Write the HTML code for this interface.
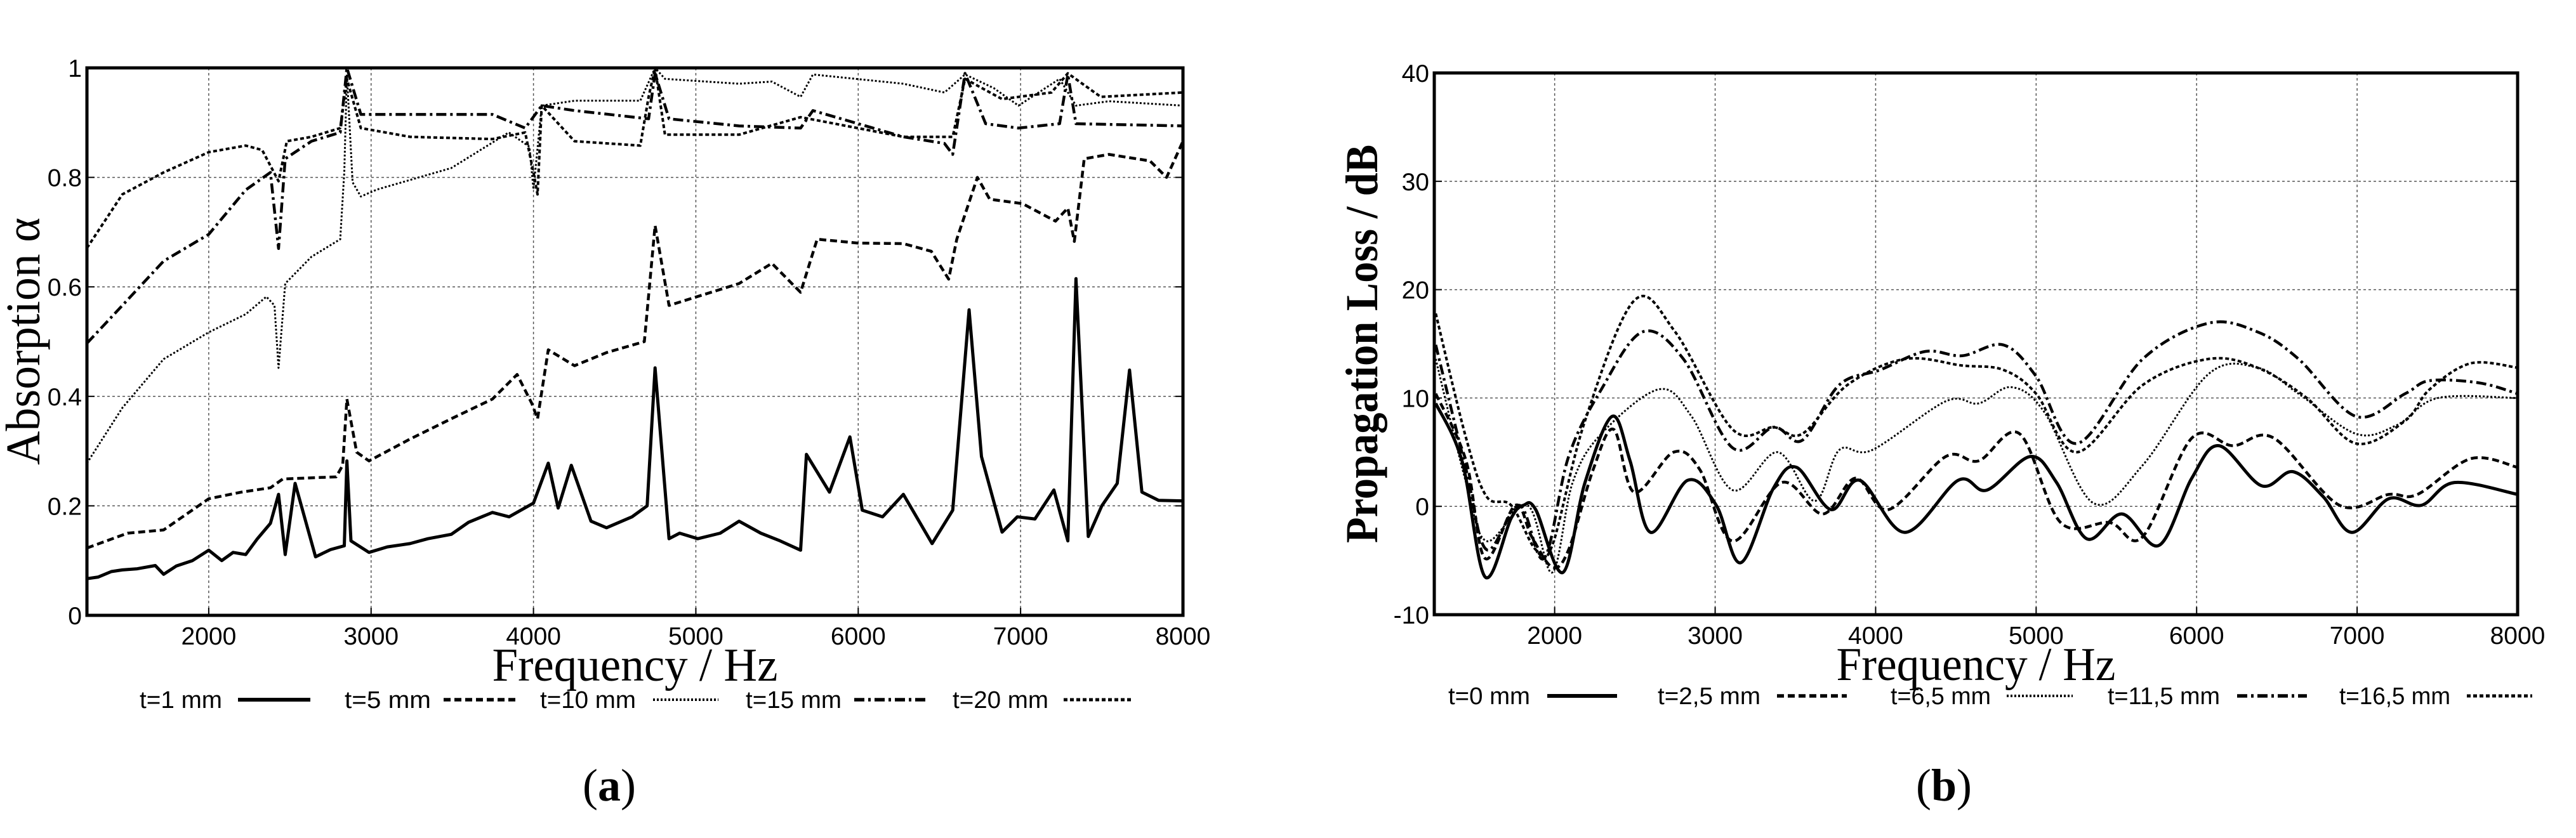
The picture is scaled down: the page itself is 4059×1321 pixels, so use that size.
<!DOCTYPE html>
<html><head><meta charset="utf-8"><style>
html,body{margin:0;padding:0;background:#fff;width:4059px;height:1321px;overflow:hidden}
svg{display:block}
</style></head><body>
<svg id="fig" width="4059" height="1321" viewBox="0 0 4059 1321" xmlns="http://www.w3.org/2000/svg"></svg>
<script>
// ---- Panel (a) data: absorption vs frequency ----
const aF1=[1250,1320,1400,1468,1560,1671,1722,1800,1900,2000,2080,2150,2228,2300,2380,2430,2471,2532,2658,2750,2835,2851,2876,2987,3100,3240,3350,3494,3600,3747,3850,4000,4091,4152,4233,4354,4450,4607,4700,4749,4835,4900,5012,5150,5266,5400,5519,5645,5681,5823,5949,6025,6150,6278,6455,6582,6683,6759,6886,6980,7088,7205,7291,7341,7417,7500,7595,7671,7747,7850,8000];
const aV1=[.067,.07,.08,.083,.085,.091,.075,.09,.1,.119,.1,.115,.111,.14,.168,.221,.111,.241,.107,.12,.127,.282,.136,.115,.125,.131,.14,.148,.17,.188,.18,.205,.278,.196,.274,.172,.16,.18,.2,.452,.14,.15,.14,.15,.172,.15,.136,.119,.294,.225,.326,.192,.18,.221,.131,.192,.558,.29,.152,.18,.176,.229,.136,.615,.144,.2,.241,.448,.225,.21,.209];
const aF5=[1250,1500,1722,2000,2200,2380,2456,2785,2825,2851,2911,2987,3240,3500,3747,3899,3990,4025,4091,4253,4450,4683,4749,4835,5266,5468,5645,5747,6000,6278,6450,6557,6607,6734,6810,7012,7215,7291,7331,7392,7544,7797,7899,8000];
const aV5=[.123,.15,.156,.213,.225,.233,.249,.253,.274,.395,.298,.282,.322,.36,.395,.44,.387,.359,.485,.456,.48,.5,.712,.566,.606,.643,.59,.687,.68,.679,.665,.614,.687,.8,.76,.752,.72,.744,.683,.834,.842,.83,.8,.866];
const aF10=[1250,1468,1722,2000,2228,2355,2405,2430,2471,2633,2810,2835,2851,2886,2937,3038,3494,3848,3975,4000,4051,4253,4658,4749,4810,5266,5468,5645,5721,6278,6531,6658,6835,6987,7240,7341,7544,8000];
const aV10=[.278,.379,.468,.517,.55,.582,.566,.452,.606,.655,.687,.81,.988,.791,.765,.778,.817,.882,.856,.778,.931,.94,.94,1.0,.98,.971,.975,.947,.988,.971,.955,.988,.963,.931,.98,.931,.939,.931];
const aF15=[1250,1468,1722,2000,2228,2380,2430,2471,2633,2810,2851,2937,3240,3747,3949,4051,4253,4709,4749,4835,5266,5645,5721,6278,6531,6582,6658,6785,6987,7240,7291,7341,8000];
const aV15=[.497,.566,.647,.696,.777,.809,.67,.834,.866,.882,1.0,.915,.915,.915,.89,.931,.922,.907,.99,.907,.894,.89,.922,.874,.862,.842,.99,.898,.89,.898,.988,.898,.894];
const aF20=[1250,1468,1722,2000,2228,2329,2430,2481,2633,2810,2851,2937,3240,3747,3949,4000,4025,4051,4253,4658,4709,4749,4810,5266,5645,6278,6582,6658,6886,7190,7291,7494,8000];
const aV20=[.671,.769,.809,.846,.858,.85,.793,.866,.874,.89,.98,.89,.874,.87,.882,.809,.769,.931,.866,.858,.947,1.0,.878,.878,.91,.874,.874,.98,.943,.955,.99,.947,.955];
// ---- Panel (b) data: propagation loss vs frequency ----
const bF0=[1259,1423,1566,1729,1806,1882,2051,2189,2358,2470,2598,2828,3007,3160,3364,3507,3722,3901,4182,4514,4693,4964,5127,5316,5536,5766,5970,6139,6404,6599,6788,6967,7197,7401,7606,8000];
const bV0=[9.5,4.2,-6.5,-1.1,0.1,-0.3,-6.1,2.2,8.3,4.2,-2.4,2.4,0.1,-5.2,1.7,3.6,-0.3,2.4,-2.4,2.4,1.5,4.6,2.2,-3,-0.7,-3.6,2.6,5.6,1.9,3.2,0.9,-2.4,0.7,0.1,2.2,1.1];
const bF2=[1259,1448,1566,1755,1857,1985,2087,2240,2368,2496,2741,2904,3109,3415,3671,3875,4080,4437,4642,4897,5153,5459,5664,5970,6226,6481,6890,7197,7376,7708,8000];
const bV2=[10.4,4.2,-4.8,0.1,-2.8,-5.6,-4,3.4,7.1,1.3,5,3.4,-3.2,2.2,-0.7,2.6,-0.3,4.6,4.2,6.7,-1.5,-1.5,-2.8,6.3,5.6,6.3,0.1,1.1,1.1,4.4,3.6];
const bF6=[1259,1448,1576,1831,1985,2112,2291,2649,2853,3109,3390,3620,3773,3978,4437,4642,4846,5051,5357,5664,6073,6379,6635,6993,7248,7503,8000];
const bV6=[13.6,2.2,-3.2,0.1,-6.1,2.2,6.7,10.8,8.3,1.5,5,0.5,5.2,5.2,9.7,9.5,11,8.7,0.3,3.8,12.2,12.8,10.4,6.7,7.5,10,10];
const bF11=[1259,1448,1576,1780,1934,2087,2291,2547,2802,3109,3364,3543,3773,4029,4310,4540,4795,5000,5255,5664,6073,6379,6635,6993,7299,7452,7759,8000];
const bV11=[14.9,3.4,-4,0.1,-4.8,4.6,10.8,16.1,13.6,5.4,7.3,6.1,11.2,12.6,14.3,13.9,14.9,12,5.8,13.6,16.9,16.1,13.6,8.3,10.4,11.6,11.4,10.4];
const bF16=[1259,1448,1576,1729,1882,1985,2189,2496,2751,3109,3364,3543,3824,4182,4540,4795,5000,5255,5664,6073,6379,6686,6993,7299,7452,7708,8000];
const bV16=[17.8,6.3,0.9,0.1,-4,-3.6,7.9,19,16.1,7.1,7.3,6.7,11.2,13.6,13,12.6,10.4,5,11.2,13.6,12.8,10,5.8,7.9,10.8,13.2,12.8];

const xTicks=[2000,3000,4000,5000,6000,7000,8000];
const aYTicks=[0,0.2,0.4,0.6,0.8,1];
const aYLabels=['0','0.2','0.4','0.6','0.8','1'];
const bYTicks=[-10,0,10,20,30,40];
const bYLabels=['-10','0','10','20','30','40'];
const aLegend=['t=1 mm','t=5 mm','t=10 mm','t=15 mm','t=20 mm'];
const bLegend=['t=0 mm','t=2,5 mm','t=6,5 mm','t=11,5 mm','t=16,5 mm'];

const NS='http://www.w3.org/2000/svg';
const svg=document.getElementById('fig');
function mk(tag,attrs,parent){const e=document.createElementNS(NS,tag);for(const k in attrs)e.setAttribute(k,attrs[k]);(parent||svg).appendChild(e);return e;}
const styles=[
 {w:5,d:''},
 {w:4.5,d:'11,6'},
 {w:3,d:'3,3'},
 {w:4.5,d:'16,6,4,6'},
 {w:4,d:'6,4'}
];
function linearPath(xs,ys,sx,sy){let d='';for(let i=0;i<xs.length;i++){d+=(i?'L':'M')+sx(xs[i]).toFixed(1)+','+sy(ys[i]).toFixed(1);}return d;}
function smoothPath(xs,ys,sx,sy){const p=xs.map((x,i)=>[sx(x),sy(ys[i])]);let d='M'+p[0][0].toFixed(1)+','+p[0][1].toFixed(1);
 for(let i=0;i<p.length-1;i++){const p0=p[i-1]||p[i],p1=p[i],p2=p[i+1],p3=p[i+2]||p2;
  const c1=[p1[0]+(p2[0]-p0[0])/6,p1[1]+(p2[1]-p0[1])/6],c2=[p2[0]-(p3[0]-p1[0])/6,p2[1]-(p3[1]-p1[1])/6];
  d+='C'+c1[0].toFixed(1)+','+c1[1].toFixed(1)+' '+c2[0].toFixed(1)+','+c2[1].toFixed(1)+' '+p2[0].toFixed(1)+','+p2[1].toFixed(1);}
 return d;}

function panel(cfg){
 const g=mk('g',{});
 
 
 const sx=f=>cfg.L+(f-1250)/(8000-1250)*(cfg.R-cfg.L);
 const sy=v=>cfg.B-(v-cfg.ymin)/(cfg.ymax-cfg.ymin)*(cfg.B-cfg.T);
 xTicks.forEach(t=>{
  if(t<8000){const l=mk('line',{x1:sx(t),x2:sx(t),y1:cfg.T,y2:cfg.B,stroke:'#555','stroke-width':1.5,'stroke-dasharray':'4,4'},g);
  
  }
  const tk=mk('line',{x1:sx(t),x2:sx(t),y1:cfg.B,y2:cfg.B-12,stroke:'#000','stroke-width':2},g);
  
  
  const tx=mk('text',{x:sx(t),y:cfg.B+46,'text-anchor':'middle','font-family':'Liberation Sans, sans-serif','font-size':39},g);
  tx.textContent=t;
  
  
 });
 cfg.yt.forEach((t,i)=>{
  if(i>0&&i<cfg.yt.length-1){const l=mk('line',{x1:cfg.L,x2:cfg.R,y1:sy(t),y2:sy(t),stroke:'#555','stroke-width':1.5,'stroke-dasharray':'4,4'},g);
  
  }
  mk('line',{x1:cfg.L,x2:cfg.L+12,y1:sy(t),y2:sy(t),stroke:'#000','stroke-width':2},g);
  mk('line',{x1:cfg.R,x2:cfg.R-12,y1:sy(t),y2:sy(t),stroke:'#000','stroke-width':2},g);
  const tx=mk('text',{x:cfg.L-8,y:sy(t)+14,'text-anchor':'end','font-family':'Liberation Sans, sans-serif','font-size':39},g);
  tx.textContent=cfg.yl[i];
  
  
 });
 cfg.series.forEach((s,i)=>{
  const d=cfg.smooth?smoothPath(s[0],s[1],sx,sy):linearPath(s[0],s[1],sx,sy);
  const p=mk('path',{d:d,fill:'none',stroke:'#000','stroke-width':styles[i].w,'stroke-linejoin':'round','stroke-dasharray':styles[i].d||'none'},g);
  
  
 });
 const fr=mk('rect',{x:cfg.L,y:cfg.T,width:cfg.R-cfg.L,height:cfg.B-cfg.T,fill:'none',stroke:'#000','stroke-width':5},g);
 
 
 const xt=mk('text',{x:(cfg.L+cfg.R)/2,y:cfg.B+103,'text-anchor':'middle','font-family':'Liberation Serif, serif','font-size':74,textLength:cfg.xtLen,lengthAdjust:'spacingAndGlyphs'},g);
 xt.textContent='Frequency / Hz';
 
 
 const yt=mk('text',{x:0,y:0,'text-anchor':'middle','font-family':'Liberation Serif, serif','font-size':cfg.ytSize,'font-weight':cfg.ytBold?'bold':'normal',textLength:cfg.ytLen,lengthAdjust:'spacingAndGlyphs',transform:'translate('+cfg.ytX+','+cfg.ytY+') rotate(-90)'},g);
 yt.textContent=cfg.ytitle;
 
 
 cfg.legend.forEach((lab,i)=>{
  const lg=mk('g',{},g);
  
  
  const t=mk('text',{x:cfg.legX[i],y:cfg.legY+13,'font-family':'Liberation Sans, sans-serif','font-size':38,textLength:cfg.legTL[i],lengthAdjust:'spacingAndGlyphs'},lg);
  t.textContent=lab;
  mk('line',{x1:cfg.legL[i][0],x2:cfg.legL[i][1],y1:cfg.legY,y2:cfg.legY,stroke:'#000','stroke-width':styles[i].w+1,'stroke-dasharray':styles[i].d||'none'},lg);
 });
 const cap=mk('text',{x:cfg.capX,y:1262,'text-anchor':'middle','font-family':'Liberation Serif, serif','font-size':72},g);
 cap.innerHTML='(<tspan font-weight="bold">'+cfg.cap+'</tspan>)';
 
 
}

panel({name:'panel-a-absorption',L:137,R:1864,T:107,B:970,ymin:0,ymax:1,yt:aYTicks,yl:aYLabels,smooth:false,
 series:[[aF1,aV1],[aF5,aV5],[aF10,aV10],[aF15,aV15],[aF20,aV20]],legend:aLegend,
 xtLen:450,ytitle:'Absorption α',ytSize:76,ytBold:false,ytLen:390,ytX:62,ytY:538,
 legY:1103,legX:[220,543,851,1175,1501],legTL:[130,136,151,151,151],legL:[[375,489],[699,815],[1029,1132],[1346,1462],[1676,1786]],capX:960,cap:'a'});
panel({name:'panel-b-propagation-loss',L:2260,R:3967,T:115,B:969,ymin:-10,ymax:40,yt:bYTicks,yl:bYLabels,smooth:true,
 series:[[bF0,bV0],[bF2,bV2],[bF6,bV6],[bF11,bV11],[bF16,bV16]],legend:bLegend,
 xtLen:440,ytitle:'Propagation Loss / dB',ytSize:72,ytBold:true,ytLen:628,ytX:2170,ytY:542,
 legY:1097,legX:[2282,2612,2979,3321,3686],legTL:[129,162,158,177,175],legL:[[2438,2548],[2800,2910],[3162,3266],[3525,3635],[3887,3990]],capX:3063,cap:'b'});
</script>
</body></html>
